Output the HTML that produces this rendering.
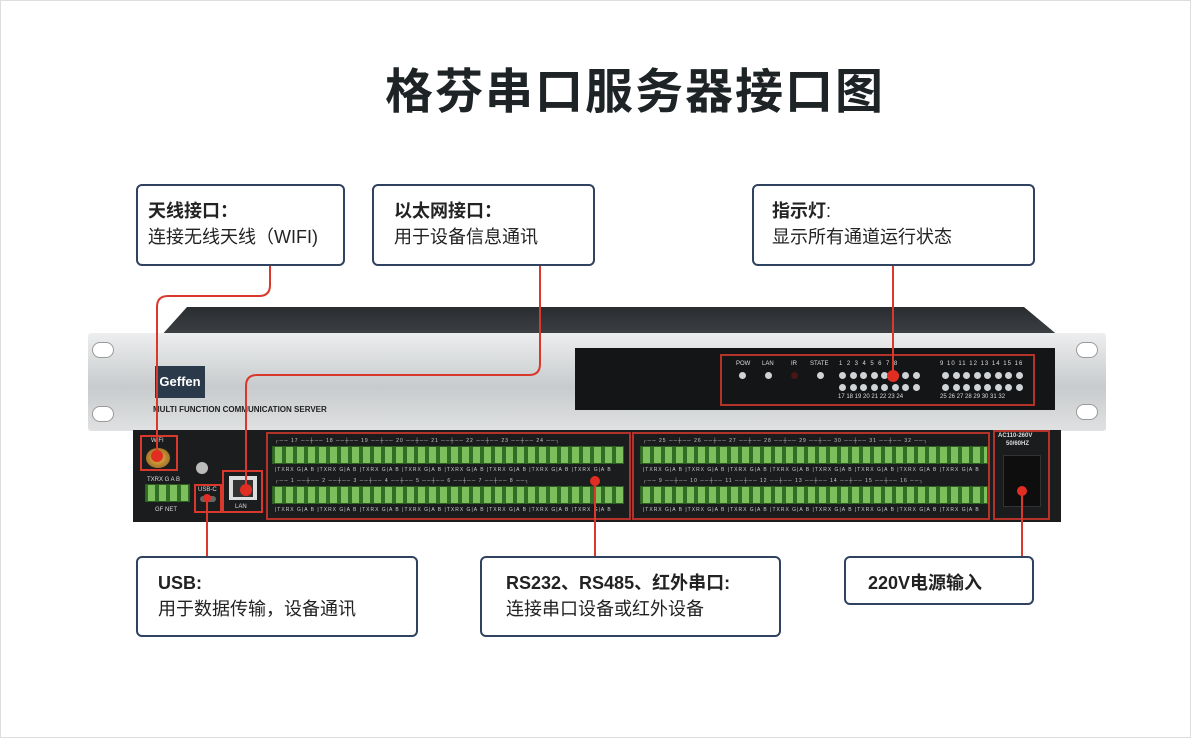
<!DOCTYPE html>
<html><head><meta charset="utf-8"><style>
*{margin:0;padding:0;box-sizing:border-box}
body{width:1191px;height:738px;background:#fff;position:relative;overflow:hidden;font-family:"Liberation Sans","Noto Sans CJK SC",sans-serif}
.frame{position:absolute;left:0;top:0;width:1191px;height:738px;border:1px solid #ddd}
.a{position:absolute}
.box{position:absolute;border:2px solid #2f4260;border-radius:6px;background:#fff;padding:12px 0 0 10px;font-size:18px;line-height:26px;color:#222}
.box b{font-weight:bold}
.title{position:absolute;left:385px;top:52px;font-size:48px;font-weight:bold;color:#1e2326;letter-spacing:2px;font-family:"Noto Sans CJK SC",sans-serif}
.red{position:absolute;border:2px solid #d9382c}
.term{position:absolute;height:18px;background:repeating-linear-gradient(90deg,#2f6e24 0 2px,#7dbf5c 2px 9px,#2f6e24 9px 11px);border:1px solid #2c5e20}
.lbl{position:absolute;color:#ccc;font-size:5px;white-space:nowrap;letter-spacing:1px}
.led{position:absolute;width:7px;height:7px;border-radius:50%;background:#cfd3d6}
.lt{position:absolute;color:#ddd;font-size:6px}
</style></head><body>
<div class="frame"></div>
<div class="title">格芬串口服务器接口图</div>

<div class="a" style="left:160px;top:307px;width:900px;height:30px;background:linear-gradient(#2a2d30,#3e4145);clip-path:polygon(3% 0,96% 0,100% 100%,0 100%)"></div>
<div class="a" style="left:88px;top:333px;width:1018px;height:98px;background:linear-gradient(#eceeef,#c8cbcd 55%,#dfe1e2);border-radius:3px"></div>
<div class="a" style="left:92px;top:342px;width:22px;height:16px;background:#fff;border-radius:8px;border:1px solid #999"></div>
<div class="a" style="left:92px;top:406px;width:22px;height:16px;background:#fff;border-radius:8px;border:1px solid #999"></div>
<div class="a" style="left:1076px;top:342px;width:22px;height:16px;background:#fff;border-radius:8px;border:1px solid #999"></div>
<div class="a" style="left:1076px;top:404px;width:22px;height:16px;background:#fff;border-radius:8px;border:1px solid #999"></div>
<div class="a" style="left:155px;top:366px;width:50px;height:32px;background:#2a3a4a;color:#fff;font-weight:bold;font-size:13px;text-align:center;line-height:32px">Geffen</div>
<div class="a" style="left:153px;top:405px;font-size:8px;font-weight:bold;color:#222">MULTI FUNCTION COMMUNICATION SERVER</div>
<div class="a" style="left:575px;top:348px;width:480px;height:62px;background:#141516"></div>
<div class="red" style="left:720px;top:354px;width:315px;height:52px;border-color:#b3322a"></div>
<div class="lt" style="left:736px;top:361px">POW</div><div class="lt" style="left:762px;top:361px">LAN</div><div class="lt" style="left:791px;top:361px">IR</div><div class="lt" style="left:810px;top:361px">STATE</div>
<div class="lt" style="left:839px;top:361px;letter-spacing:4.5px">12345678</div>
<div class="lt" style="left:940px;top:361px;letter-spacing:1px">9 10 11 12 13 14 15 16</div>
<div class="lt" style="left:838px;top:394px">17 18 19 20 21 22 23 24</div>
<div class="lt" style="left:940px;top:394px">25 26 27 28 29 30 31 32</div>
<div class="led" style="left:739px;top:372px"></div><div class="led" style="left:765px;top:372px"></div><div class="led" style="left:791px;top:372px;background:#4a1515"></div><div class="led" style="left:817px;top:372px"></div>
<div id="leds"></div>

<div class="a" style="left:133px;top:430px;width:928px;height:92px;background:#1b1c1e"></div>
<div class="red" style="left:140px;top:435px;width:38px;height:36px"></div>
<div class="a" style="left:146px;top:448px;width:24px;height:20px;border-radius:50%;background:radial-gradient(#e8b54a,#8a5a1a)"></div>
<div class="lt" style="left:151px;top:438px">WIFI</div>
<div class="a" style="left:196px;top:462px;width:12px;height:12px;border-radius:50%;background:#bbb"></div>
<div class="term" style="left:145px;top:484px;width:45px"></div>
<div class="lt" style="left:147px;top:477px">TXRX G A B</div><div class="lt" style="left:155px;top:507px">GF NET</div>
<div class="red" style="left:194px;top:484px;width:28px;height:29px"></div>
<div class="lt" style="left:198px;top:487px">USB-C</div><div class="a" style="left:200px;top:496px;width:16px;height:6px;border-radius:3px;background:#666"></div>
<div class="red" style="left:222px;top:470px;width:41px;height:43px"></div>
<div class="a" style="left:229px;top:476px;width:28px;height:24px;background:#ddd"></div>
<div class="a" style="left:233px;top:480px;width:20px;height:17px;background:#333"></div>
<div class="lt" style="left:235px;top:504px">LAN</div>
<div class="red" style="left:266px;top:432px;width:365px;height:88px;border-color:#b3322a"></div>
<div class="red" style="left:632px;top:432px;width:358px;height:88px;border-color:#b3322a"></div>
<div class="term" style="left:272px;top:446px;width:352px"></div><div class="term" style="left:272px;top:486px;width:352px"></div>
<div class="term" style="left:640px;top:446px;width:348px"></div><div class="term" style="left:640px;top:486px;width:348px"></div>
<div class="lbl" style="left:275px;top:438px">┌── 17 ──┼── 18 ──┼── 19 ──┼── 20 ──┼── 21 ──┼── 22 ──┼── 23 ──┼── 24 ──┐</div>
<div class="lbl" style="left:275px;top:478px">┌── 1 ──┼── 2 ──┼── 3 ──┼── 4 ──┼── 5 ──┼── 6 ──┼── 7 ──┼── 8 ──┐</div>
<div class="lbl" style="left:643px;top:438px">┌── 25 ──┼── 26 ──┼── 27 ──┼── 28 ──┼── 29 ──┼── 30 ──┼── 31 ──┼── 32 ──┐</div>
<div class="lbl" style="left:643px;top:478px">┌── 9 ──┼── 10 ──┼── 11 ──┼── 12 ──┼── 13 ──┼── 14 ──┼── 15 ──┼── 16 ──┐</div>
<div class="lbl" style="left:275px;top:467px">|TXRX G|A B |TXRX G|A B |TXRX G|A B |TXRX G|A B |TXRX G|A B |TXRX G|A B |TXRX G|A B |TXRX G|A B</div>
<div class="lbl" style="left:275px;top:507px">|TXRX G|A B |TXRX G|A B |TXRX G|A B |TXRX G|A B |TXRX G|A B |TXRX G|A B |TXRX G|A B |TXRX G|A B</div>
<div class="lbl" style="left:643px;top:467px">|TXRX G|A B |TXRX G|A B |TXRX G|A B |TXRX G|A B |TXRX G|A B |TXRX G|A B |TXRX G|A B |TXRX G|A B</div>
<div class="lbl" style="left:643px;top:507px">|TXRX G|A B |TXRX G|A B |TXRX G|A B |TXRX G|A B |TXRX G|A B |TXRX G|A B |TXRX G|A B |TXRX G|A B</div>
<div class="red" style="left:993px;top:430px;width:57px;height:90px;border-color:#b3322a"></div>
<div class="lt" style="left:998px;top:433px;font-weight:bold">AC110-260V</div><div class="lt" style="left:1006px;top:441px;font-weight:bold">50/60HZ</div>
<div class="a" style="left:1003px;top:455px;width:38px;height:52px;background:#0e0e0f;border:1px solid #333"></div>

<svg class="a" style="left:0;top:0" width="1191" height="738">
<g fill="none" stroke="#d9382c" stroke-width="2">
<path d="M270 266 V285 Q270 296 259 296 H168 Q157 296 157 307 V452"/>
<path d="M540 266 V364 Q540 375 529 375 H257 Q246 375 246 386 V488"/>
<path d="M893 266 V376"/>
<path d="M207 498 V556"/>
<path d="M595 480 V556"/>
<path d="M1022 490 V556"/>
</g>
<g fill="#e22d22"><circle cx="157" cy="456" r="6"/><circle cx="246" cy="490" r="6"/><circle cx="893" cy="376" r="6"/><circle cx="595" cy="481" r="5"/><circle cx="1022" cy="491" r="5"/><circle cx="207" cy="498" r="4"/></g>
</svg>

<div class="box" style="left:136px;top:184px;width:209px;height:82px"><b>天线接口：</b><br>连接无线天线（WIFI)</div>
<div class="box" style="left:372px;top:184px;width:223px;height:82px;padding-left:20px"><b>以太网接口：</b><br>用于设备信息通讯</div>
<div class="box" style="left:752px;top:184px;width:283px;height:82px;padding-left:18px"><b>指示灯</b>:<br>显示所有通道运行状态</div>
<div class="box" style="left:136px;top:556px;width:282px;height:81px;padding-left:20px"><b>USB:</b><br>用于数据传输，设备通讯</div>
<div class="box" style="left:480px;top:556px;width:301px;height:81px;padding-left:24px"><b>RS232、RS485、红外串口:</b><br>连接串口设备或红外设备</div>
<div class="box" style="left:844px;top:556px;width:190px;height:49px;padding-left:22px"><b>220V电源输入</b></div>

<script>
var h='';
for(var r=0;r<2;r++)for(var g=0;g<2;g++)for(var i=0;i<8;i++){
 h+='<div class="led" style="left:'+(839+g*103+i*10.5)+'px;top:'+(372+r*12)+'px"></div>';}
document.getElementById('leds').innerHTML=h;
</script>
</body></html>
